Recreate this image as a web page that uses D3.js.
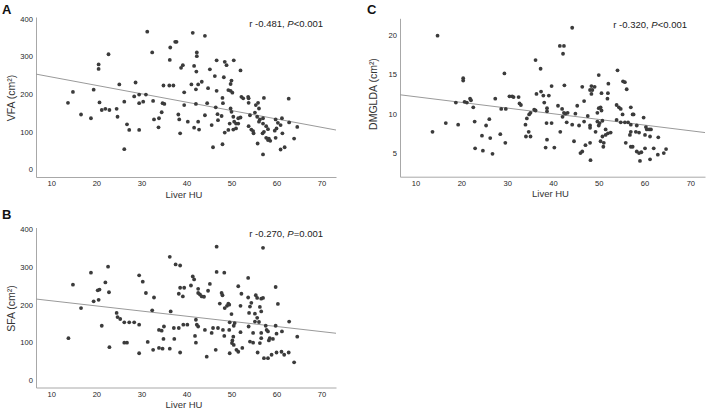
<!DOCTYPE html>
<html>
<head>
<meta charset="utf-8">
<script src="https://cdn.jsdelivr.net/npm/d3@7"></script>
<style>
  body { margin: 0; background: #fff; }
  svg { display: block; font-family: "Liberation Sans", Arial, sans-serif; }
  .tick text { fill: #262626; font-size: 7.6px; }
  .domain { stroke: #a8a8a8; }
</style>
</head>
<body>
<div id="chart"></div>
<script>
// Liver HU vs fat areas
var xTicks = [10, 20, 30, 40, 50, 60, 70];
var areaTicks = [0, 100, 200, 300, 400];
var dmgTicks = [5, 10, 15, 20];

var pointsA = [
  [14.8,206],[19.4,212],[20.5,279],[20.5,267],[22.7,306],[25.1,226],[28.7,231],[28.4,194],[29.5,199],[31.0,199],
  [31.3,366],[32.4,311],[34.9,223],[36.2,223],[37.1,223],[36.3,291],[36.4,324],[37.5,339],[37.8,339],
  [13.7,177],[16.6,146],[18.8,136],[20.7,178],[21.2,158],[22.0,161],[22.9,158],[24.5,161],[24.7,140],[26.2,180],
  [26.8,120],[27.3,105],[26.2,54],[29.5,176],[30.4,180],[29.5,105],[32.6,182],[32.8,133],[33.9,136],[33.8,112],
  [34.5,152],[34.7,176],[35.1,174],[38.2,146],[38.4,133],[38.6,96],
  [41.4,363],[44.1,355],[42.3,311],[42.3,301],[39.2,277],[38.8,270],[41.7,275],[42.2,260],[45.2,266],[46.7,290],
  [48.5,286],[50.5,290],[48.9,277],[52.0,263],[46.3,248],[48.3,245],[50.0,236],[49.8,227],[41.1,226],[43.4,233],
  [42.6,226],[42.1,213],[44.8,216],[46.7,209],[39.5,205],[49.3,211],[49.8,209],[50.2,204],[52.2,193],[52.6,189],
  [53.7,193],[53.8,189],[57.2,190],[62.7,188],[48.0,190],
  [39.5,171],[40.3,127],[41.7,111],[42.1,174],[42.6,127],[42.8,106],[44.1,144],[44.6,176],[45.6,118],[45.9,59],
  [46.5,165],[46.9,147],[47.0,131],[47.8,142],[48.0,67],[48.1,176],[48.5,98],[49.3,105],[49.6,122],[49.8,162],
  [50.0,153],[50.4,140],[50.6,127],[51.0,122],[50.4,106],[51.0,109],[51.5,136],[52.0,138],[51.5,122],[53.8,177],
  [54.1,144],[53.8,115],[54.4,106],[54.8,102],[54.9,96],[55.2,151],[55.4,171],[55.9,177],[55.7,140],[56.1,162],
  [56.3,133],[57.0,136],[56.1,127],[57.0,122],[55.8,69],[57.0,40],[57.7,115],[58.1,107],[57.2,100],[56.9,96],
  [57.7,84],[58.1,78],[58.6,76],[58.3,82],[59.8,133],[60.3,124],[60.9,118],[60.0,109],[59.6,103],[59.8,84],
  [61.2,136],[61.3,96],[62.8,125],[64.6,113],[63.9,82],[61.8,59],[60.9,53]
];

var pointsB = [
  [14.8,253],[18.8,285],[22.6,301],[22.0,259],[22.8,233],[20.3,238],[20.7,240],[19.4,209],[29.5,278],[30.3,261],
  [31.0,231],[32.8,219],[36.3,327],[37.6,307],[38.6,304],[38.6,245],[38.3,229],[46.7,354],[57.0,351],[41.4,275],
  [41.7,267],[46.7,287],[48.4,285],[53.7,271],[45.2,255],[51.5,249],[59.8,247],[39.5,245],[41.0,251],[42.6,242],
  [44.8,237],[39.2,222],[42.6,231],[43.0,227],[43.4,222],[43.9,221],[47.8,231],[48.0,225],[52.2,229],[53.7,219],
  [55.4,225],[55.7,218],[56.6,216],[57.0,218],[47.4,203],[49.3,203],[54.4,205],[60.3,202],
  [13.8,111],[16.6,191],[20.5,213],[21.2,144],[22.9,87],[24.5,178],[24.7,167],[25.3,162],[26.2,153],[27.3,153],
  [28.4,153],[29.5,147],[26.2,99],[26.8,99],[29.5,71],[31.4,101],[32.6,80],[32.4,185],[33.9,133],[34.5,131],
  [35.0,142],[34.9,109],[33.9,85],[34.7,83],[36.3,83],[37.3,109],[37.2,138],[38.3,138],[36.5,182],[38.6,73],
  [48.5,191],[49.0,197],[49.5,200],[52.0,197],[54.1,195],[56.3,194],[56.6,182],[50.0,175],[53.9,178],[55.2,176],
  [55.7,165],[56.1,154],[55.2,155],[62.8,155],[39.3,147],[40.2,147],[42.1,160],[42.3,147],[42.6,142],[44.1,133],
  [45.9,138],[47.0,138],[49.6,153],[50.7,151],[50.5,144],[48.1,133],[48.4,117],[49.5,133],[45.6,125],[52.0,127],
  [53.8,142],[54.8,125],[56.6,125],[57.6,144],[57.8,133],[58.1,129],[59.8,144],[61.2,129],[60.0,123],[58.5,111],
  [58.3,105],[59.2,109],[56.6,111],[54.8,99],[54.1,102],[56.3,98],[50.4,115],[50.2,105],[50.1,98],[50.5,93],
  [41.9,117],[42.1,99],[46.5,80],[49.6,71],[51.1,80],[51.5,75],[52.4,85],[55.8,73],[57.2,58],[58.1,58],
  [58.9,67],[60.0,73],[61.1,75],[61.7,67],[62.7,73],[63.9,47],[64.6,115],[44.5,62]
];

var pointsC = [
  [14.8,19.9],[20.4,14.5],[20.4,14.2],[29.4,15.1],[30.5,12.2],[31.1,12.2],[31.4,12.1],[32.5,12.1],[27.4,11.9],[21.9,11.9],
  [36.2,16.8],[44.2,20.9],[41.5,18.6],[42.4,18.6],[42.2,17.6],[37.3,15.7],[54.1,15.5],[50.0,14.9],[55.3,14.1],[55.7,14.0],
  [52.1,13.8],[56.1,13.1],[39.7,13.5],[42.5,13.6],[46.4,13.4],[48.4,13.5],[49.1,13.4],[48.1,13.0],[48.6,13.0],[48.4,12.5],
  [52.0,12.6],[36.4,12.5],[37.4,12.8],[37.9,12.3],[39.1,12.3],[51.9,11.9],
  [13.7,7.7],[16.6,8.8],[19.3,8.6],[18.8,11.4],[20.7,11.5],[21.2,11.4],[22.1,11.7],[22.6,10.8],[22.9,9.0],[23.0,5.6],
  [24.7,5.3],[24.5,7.2],[25.4,8.5],[26.1,9.3],[26.3,6.9],[26.8,4.9],[28.7,10.6],[29.7,10.6],[28.5,7.4],[29.6,6.3],
  [32.7,11.3],[33.0,11.1],[34.0,8.6],[34.3,9.4],[34.8,9.9],[35.1,7.1],[34.1,7.1],[34.7,7.7],[35.9,10.5],
  [38.1,11.4],[38.7,10.7],[38.7,10.3],[36.2,10.4],[35.1,10.1],[38.6,8.8],[39.7,8.8],[38.7,6.7],[38.4,5.7],[40.3,5.7],
  [41.1,11.0],[42.0,10.6],[42.4,10.1],[42.7,10.0],[43.2,10.1],[42.1,9.6],[43.0,8.9],[41.6,7.7],[44.2,8.6],[45.3,11.0],
  [44.9,10.0],[45.7,8.5],[46.8,11.6],[46.8,9.0],[47.6,9.7],[48.1,8.5],[48.1,8.2],[50.6,12.6],[49.7,10.1],[50.0,10.7],
  [50.4,10.8],[50.6,10.4],[49.7,9.0],[50.2,8.8],[50.0,8.5],[50.8,9.1],[49.3,7.7],[51.5,8.0],[51.5,7.3],[52.0,7.5],
  [52.6,7.6],[50.8,7.1],[50.4,6.5],[51.1,6.3],[51.0,5.8],[44.6,6.5],[48.1,6.3],[47.1,6.0],[46.4,5.2],[46.0,5.0],
  [48.2,4.1],[53.9,11.1],[54.4,10.8],[54.8,10.6],[55.2,9.9],[53.9,9.2],[54.8,8.9],[55.7,8.9],[56.4,8.9],[57.0,10.8],
  [57.4,9.9],[57.6,9.9],[57.0,8.6],[58.3,8.5],[57.0,7.7],[56.8,7.3],[58.1,7.7],[58.8,7.6],[59.8,9.5],[60.3,8.3],
  [60.5,8.0],[61.0,8.0],[61.4,8.0],[60.1,7.3],[61.2,7.1],[63.0,7.0],[55.9,6.3],[57.0,5.8],[57.4,5.8],[58.3,5.2],
  [58.8,5.0],[59.3,5.1],[59.0,4.0],[60.1,5.6],[61.2,4.2],[62.0,5.6],[62.9,4.8],[64.2,5.0],[64.7,5.5]
];

// fit lines: [intercept, slope]
var fitA = [268, -2.23];
var fitB = [224, -1.365];
var fitC = [12.87, -0.072];

var statsA = ["r -0.481, ", "P", "<0.001"];
var statsB = ["r -0.270, ", "P", "=0.001"];
var statsC = ["r -0.320, ", "P", "<0.001"];

var width = 709, height = 412;
var huDomain = [6.6, 73.2];

var svg = d3.select("#chart").append("svg").attr("width", width).attr("height", height);

function drawPanel(p) {
  var g = svg.append("g");

  var x = d3.scaleLinear().domain(huDomain).range([p.left, p.right]);
  var y = d3.scaleLinear().domain(p.yDomain).range([p.bottom, p.top]);

  g.append("g")
    .attr("transform", "translate(0," + p.bottom + ")")
    .call(d3.axisBottom(x).tickValues(xTicks).tickSize(0).tickPadding(4))
    .call(function(a) { a.selectAll(".tick line").remove(); });

  g.append("g")
    .attr("transform", "translate(" + p.left + ",0)")
    .call(d3.axisLeft(y).tickValues(p.ticks).tickSize(0).tickPadding(3))
    .call(function(a) { a.selectAll(".tick line").remove(); });

  g.selectAll(".domain").attr("stroke", "#a8a8a8");

  g.append("line")
    .attr("x1", x(huDomain[0])).attr("y1", y(p.fit[0] + p.fit[1] * huDomain[0]))
    .attr("x2", x(huDomain[1])).attr("y2", y(p.fit[0] + p.fit[1] * huDomain[1]))
    .attr("stroke", "#9a9a9a").attr("stroke-width", 1);

  g.selectAll("circle.pt").data(p.points).enter()
    .append("circle")
    .attr("class", "pt")
    .attr("cx", function(d) { return x(d[0]); })
    .attr("cy", function(d) { return y(d[1]); })
    .attr("r", 1.9)
    .attr("fill", "#3b3b3b");

  var st = g.append("text")
    .attr("x", p.statX).attr("y", p.top + 9.5)
    .attr("text-anchor", "end")
    .attr("font-size", "9.5px")
    .attr("fill", "#222");
  st.append("tspan").text(p.stats[0]);
  st.append("tspan").attr("font-style", "italic").text(p.stats[1]);
  st.append("tspan").text(p.stats[2]);

  g.append("text")
    .attr("x", (p.left + p.right) / 2 - 2).attr("y", p.bottom + 20.5)
    .attr("text-anchor", "middle")
    .attr("font-size", "9.5px")
    .attr("fill", "#333")
    .text("Liver HU");

  g.append("text")
    .attr("transform", "translate(" + p.titleX + "," + p.titleY + ")rotate(-90)")
    .attr("text-anchor", "middle")
    .attr("font-size", "10.5px")
    .attr("fill", "#333")
    .text(p.title);

  g.append("text")
    .attr("x", p.letterX).attr("y", p.letterY)
    .attr("font-size", "13px")
    .attr("font-weight", "bold")
    .attr("fill", "#111")
    .text(p.letter);
}

drawPanel({ left: 36, right: 336, top: 17, bottom: 177, yDomain: [-20, 405], ticks: areaTicks,
  points: pointsA, fit: fitA, stats: statsA, statX: 323, title: "VFA (cm²)", titleX: 15, titleY: 98,
  letter: "A", letterX: 2, letterY: 14 });

drawPanel({ left: 36, right: 336, top: 227.5, bottom: 387.5, yDomain: [-20, 405], ticks: areaTicks,
  points: pointsB, fit: fitB, stats: statsB, statX: 323, title: "SFA (cm²)", titleX: 15, titleY: 308.5,
  letter: "B", letterX: 2, letterY: 219 });

drawPanel({ left: 400, right: 705, top: 18.3, bottom: 176.7, yDomain: [2, 22.1], ticks: dmgTicks,
  points: pointsC, fit: fitC, stats: statsC, statX: 687, title: "DMGLDA (cm²)", titleX: 376.5, titleY: 94,
  letter: "C", letterX: 367, letterY: 14 });
</script>
</body>
</html>
